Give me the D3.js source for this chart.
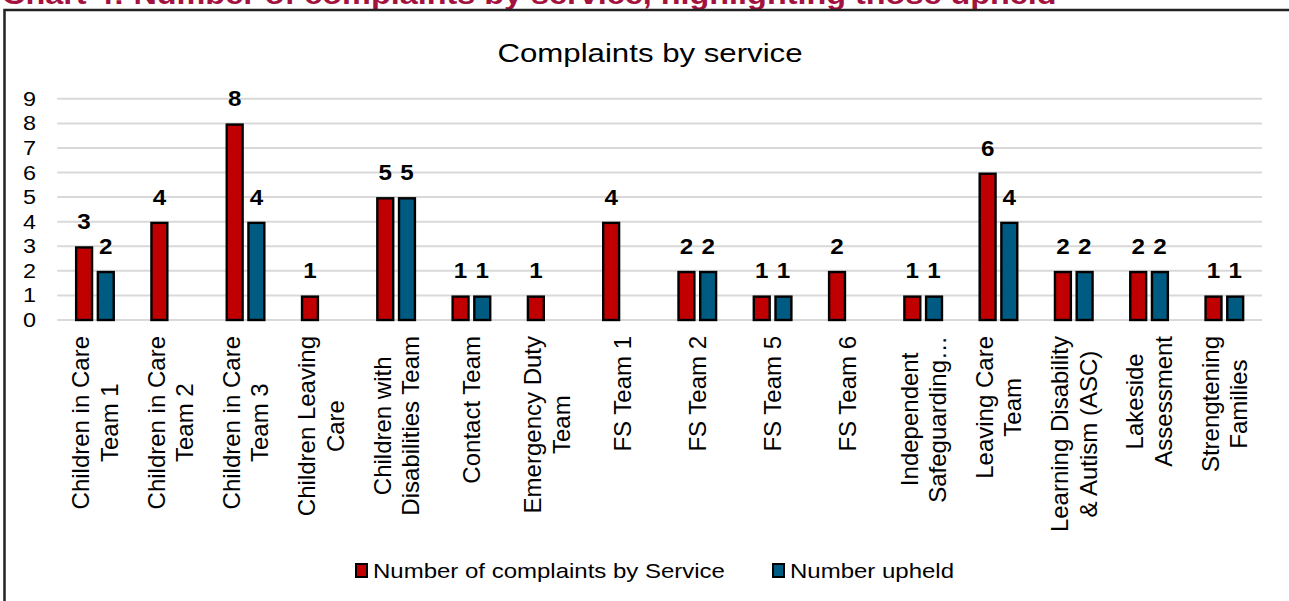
<!DOCTYPE html>
<html>
<head>
<meta charset="utf-8">
<script src="https://cdn.jsdelivr.net/npm/d3@7"></script>
<style>
  body { margin: 0; background: #fff; }
  svg { display: block; font-family: "Liberation Sans", Arial, sans-serif; }
</style>
</head>
<body>
<svg id="chart" width="1289" height="601"></svg>
<script>
// chart data
const categories = [
  ["Children in Care", "Team 1"],
  ["Children in Care", "Team 2"],
  ["Children in Care", "Team 3"],
  ["Children Leaving", "Care"],
  ["Children with", "Disabilities Team"],
  ["Contact Team"],
  ["Emergency Duty", "Team"],
  ["FS Team 1"],
  ["FS Team 2"],
  ["FS Team 5"],
  ["FS Team 6"],
  ["Independent", "Safeguarding\u2026"],
  ["Leaving Care", "Team"],
  ["Learning Disability", "& Autism (ASC)"],
  ["Lakeside", "Assessment"],
  ["Strengtening", "Families"]
];
const complaints = [3, 4, 8, 1, 5, 1, 1, 4, 2, 1, 2, 1, 6, 2, 2, 1];
const upheld     = [2, null, 4, null, 5, 1, null, null, 2, 1, null, 1, 4, 2, 2, 1];
const yTicks = [0, 1, 2, 3, 4, 5, 6, 7, 8, 9];
const seriesNames = ["Number of complaints by Service", "Number upheld"];

const colors = { complaints: "#C00000", upheld: "#005B82" };

const svg = d3.select("#chart");

// heading above the chart box (cut off at the top, as in the source)
svg.append("text")
    .attr("transform", "translate(2,4) scale(1.2,1)")
    .attr("font-size", 27)
    .attr("font-weight", "bold")
    .attr("fill", "#A3123F")
    .text("Chart 4: Number of complaints by service, highlighting those upheld");

// chart box
svg.append("rect")
    .attr("x", 4.5)
    .attr("y", 10)
    .attr("width", 1300)
    .attr("height", 620)
    .attr("fill", "none")
    .attr("stroke", "#222")
    .attr("stroke-width", 2.5);

// title
svg.append("text")
    .attr("transform", "translate(650,62) scale(1.2,1)")
    .attr("text-anchor", "middle")
    .attr("font-size", 26)
    .attr("fill", "#000")
    .text("Complaints by service");

// scales
const xScale = d3.scaleBand()
    .domain(d3.range(categories.length))
    .range([57.3, 1262])
    .padding(0);

const inner = d3.scaleBand()
    .domain(["complaints", "upheld"])
    .range([-20, 20])
    .paddingInner(0.157);

const yScale = d3.scaleLinear()
    .domain([0, 9])
    .range([320, 98.8]);

// gridlines
svg.append("g")
    .selectAll("line")
    .data(yTicks)
    .enter()
    .append("line")
    .attr("x1", 57.3)
    .attr("x2", 1262)
    .attr("y1", d => yScale(d))
    .attr("y2", d => yScale(d))
    .attr("stroke", "#D9D9D9")
    .attr("stroke-width", 2);

// y tick labels
svg.append("g")
    .selectAll("text")
    .data(yTicks)
    .enter()
    .append("text")
    .attr("transform", d => `translate(36,${yScale(d)}) scale(1.2,1)`)
    .attr("dy", "0.36em")
    .attr("text-anchor", "end")
    .attr("font-size", 19.5)
    .text(d => d);

// bars
const sw = 2.4;
const groups = svg.append("g")
    .selectAll("g")
    .data(categories.map((c, i) => ({ i: i, complaints: complaints[i], upheld: upheld[i] })))
    .enter()
    .append("g")
    .attr("transform", d => `translate(${xScale(d.i) + xScale.bandwidth() / 2},0)`);

["complaints", "upheld"].forEach(function (key) {
    const g = groups.filter(d => d[key] != null);
    g.append("rect")
        .attr("x", inner(key) + sw / 2)
        .attr("y", d => yScale(d[key]) + sw / 2)
        .attr("width", inner.bandwidth() - sw)
        .attr("height", d => yScale(0) - yScale(d[key]) - sw / 2)
        .attr("fill", colors[key])
        .attr("stroke", "#000")
        .attr("stroke-width", sw);

    g.append("text")
        .attr("transform", d => `translate(${inner(key) + inner.bandwidth() / 2},${yScale(d[key]) - 17}) scale(1.1,1)`)
        .attr("text-anchor", "middle")
        .attr("font-size", 22)
        .attr("font-weight", "bold")
        .text(d => d[key]);
});

// category labels, rotated, lines centred on each other
const lineGap = 28.4;
const labels = svg.append("g")
    .selectAll("g")
    .data(categories)
    .enter()
    .append("g")
    .attr("transform", (d, i) => `translate(${xScale(i) + xScale.bandwidth() / 2},336) rotate(-90)`);

labels.each(function (lines) {
    const g = d3.select(this);
    const texts = g.selectAll("text")
        .data(lines)
        .enter()
        .append("text")
        .attr("font-size", 24)
        .attr("text-anchor", "middle")
        .attr("y", (d, k) => (k - (lines.length - 1) / 2) * lineGap + 8.6)
        .text(d => d);
    let maxLen = 0;
    texts.each(function () { maxLen = Math.max(maxLen, this.getComputedTextLength()); });
    texts.attr("x", -maxLen / 2);
});

// legend
const legendX = [356, 773];
const legendKeys = ["complaints", "upheld"];
const legend = svg.append("g");
legendKeys.forEach(function (key, k) {
    legend.append("rect")
        .attr("x", legendX[k])
        .attr("y", 564)
        .attr("width", 11)
        .attr("height", 13)
        .attr("fill", colors[key])
        .attr("stroke", "#000")
        .attr("stroke-width", 2);
    legend.append("text")
        .attr("transform", `translate(${legendX[k] + 17},578) scale(1.2,1)`)
        .attr("font-size", 20)
        .text(seriesNames[k]);
});
</script>
</body>
</html>
